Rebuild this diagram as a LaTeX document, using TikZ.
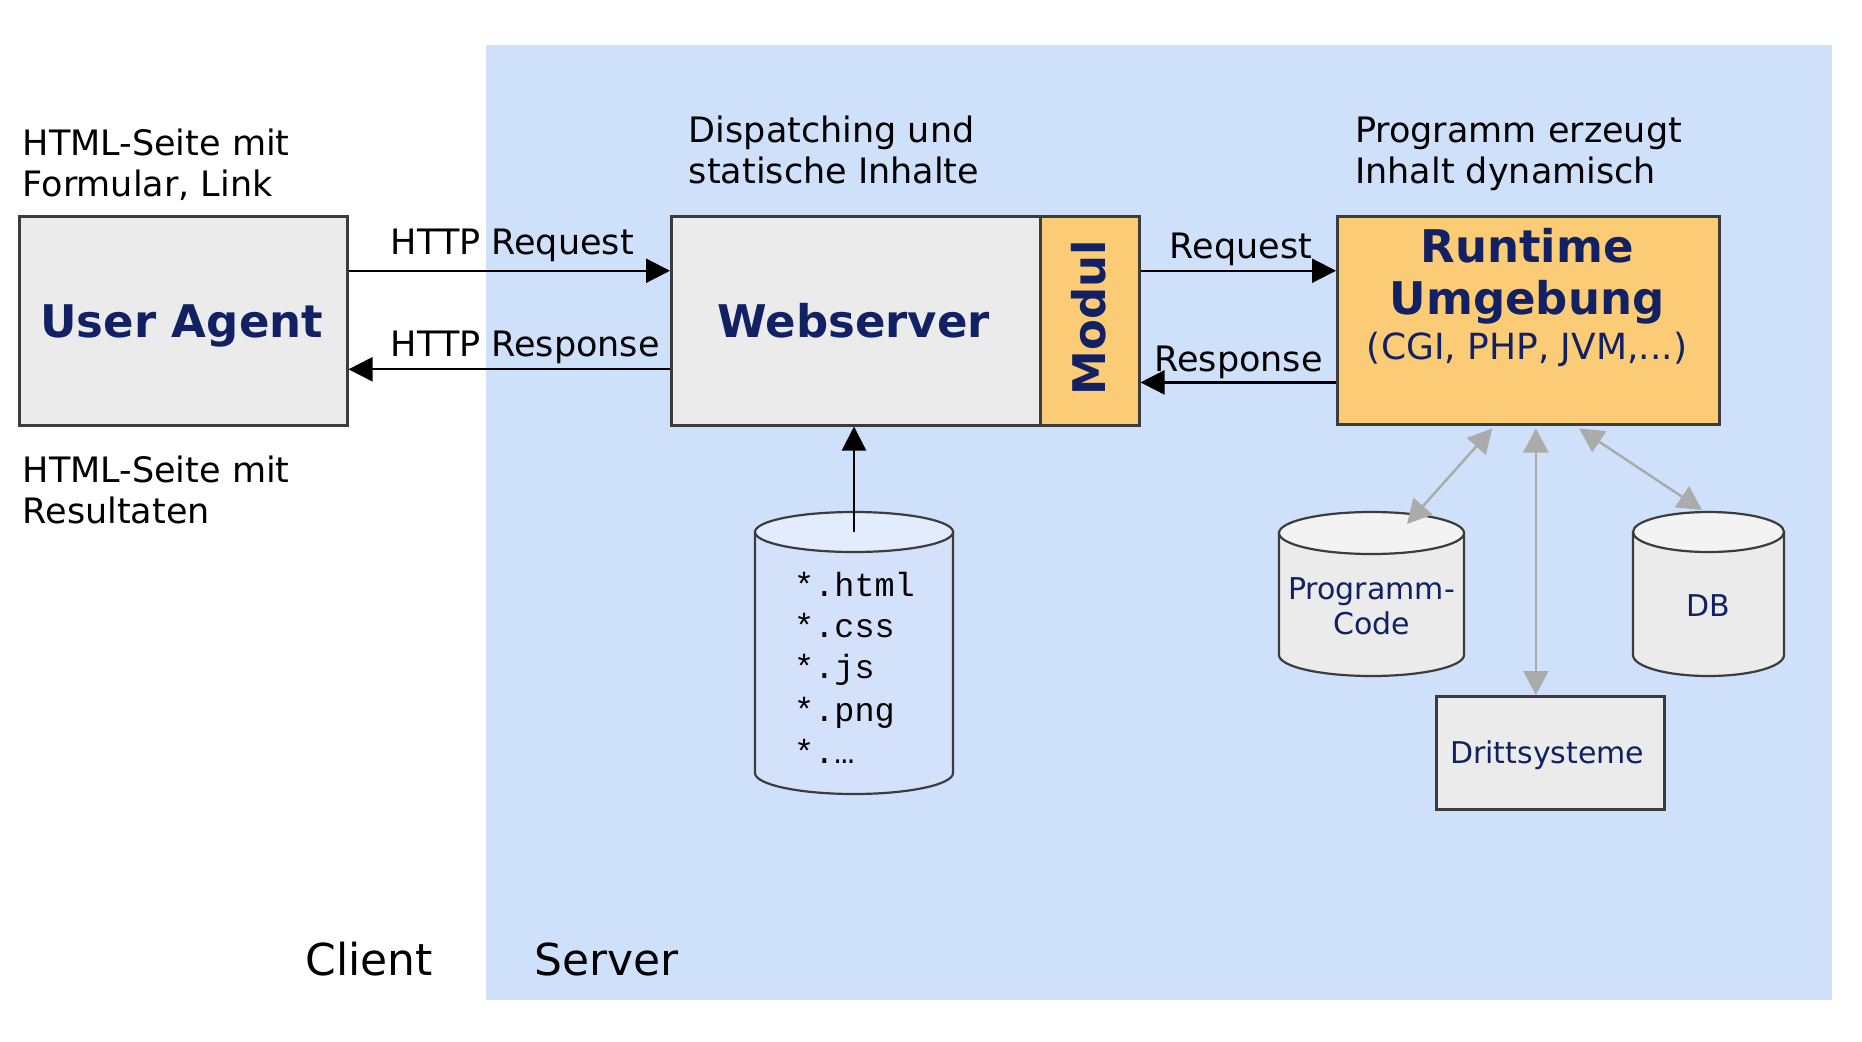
\documentclass[tikz,border=0pt]{standalone}
\usepackage{fontspec}
\setmainfont{DejaVu Sans}
\newfontfamily\monofont{Liberation Mono}
\usetikzlibrary{arrows.meta}
\definecolor{serverbg}{HTML}{CFE0FA}
\definecolor{boxgray}{HTML}{EBEBEB}
\definecolor{boxline}{HTML}{3C3C3C}
\definecolor{orangefill}{HTML}{FCCB76}
\definecolor{navy}{HTML}{112163}
\definecolor{arrgray}{HTML}{ABABAB}
\definecolor{cylblue}{HTML}{D3E2FA}
\definecolor{cylbluetop}{HTML}{E3ECFC}
\definecolor{cylgraytop}{HTML}{F3F3F3}
\begin{document}
\begin{tikzpicture}[x=1pt,y=-1pt,
  graybox/.style={draw=boxline, line width=2.5pt, fill=boxgray, inner sep=0pt, anchor=north west},
  orangebox/.style={draw=boxline, line width=2.5pt, fill=orangefill, inner sep=0pt, anchor=north west},
  annot/.style={align=left, anchor=west, inner sep=0pt, font=\fontsize{35}{40.5}\selectfont},
  lbl/.style={inner sep=0pt, font=\fontsize{35}{40.5}\selectfont},
  bigbold/.style={inner sep=0pt, anchor=base, text=navy, font=\fontsize{45}{52}\selectfont\bfseries},
  smalltxt/.style={inner sep=0pt, anchor=base, text=navy, font=\fontsize{30}{35}\selectfont},
  monotxt/.style={inner sep=0pt, anchor=base west, font=\fontsize{33.5}{40}\monofont},
  sidelbl/.style={inner sep=0pt, anchor=base, font=\fontsize{44}{50}\selectfont},
  blk/.style={line width=2.2pt, -{Triangle[length=24pt,width=24pt]}},
  gry/.style={draw=arrgray, line width=2.5pt, {Triangle[length=24pt,width=25pt]}-{Triangle[length=24pt,width=25pt]}},
  cylline/.style={draw=boxline, line width=2.2pt}
]
\useasboundingbox (0,0) rectangle (1862,1041);
% server background
\fill[serverbg] (486,45) rectangle (1832,1000);

% annotations
\node[annot] (a1) at (22.6,164.7) {HTML-Seite mit\\Formular, Link};
\node[annot] (a2) at (22.6,490) {HTML-Seite mit\\Resultaten};
\node[annot] (a3) at (688.7,150) {Dispatching und\\statische Inhalte};
\node[annot] (a4) at (1355,154) {Programm erzeugt\\Inhalt dynamisch};

% boxes
\node[graybox, minimum width=328pt, minimum height=209pt] (ua) at (18,215) {};
\node[graybox, minimum width=369pt, minimum height=209pt] (ws) at (670,215) {};
\node[orangebox, minimum width=99pt, minimum height=209pt] (mod) at (1039,215) {};
\node[orangebox, minimum width=382pt, minimum height=208pt] (rt) at (1336,215) {};
\node[graybox, minimum width=228pt, minimum height=113pt] (dr) at (1435,695) {};

% box texts
\node[bigbold] (uat) at (181.7,337) {User Agent};
\node[bigbold] (wst) at (853.8,337) {Webserver};
\node[inner sep=0pt, text=navy, font=\fontsize{45}{52}\selectfont\bfseries, rotate=90] (modt) at (1089,318) {Modul};
\node[bigbold] (rt1) at (1527,262.2) {Runtime};
\node[bigbold] (rt2) at (1527,314.4) {Umgebung};
\node[inner sep=0pt, anchor=base, text=navy, font=\fontsize{36}{40}\selectfont] (rt3) at (1527,359.5) {(CGI, PHP, JVM,...)};
\node[smalltxt] (drt) at (1547.3,763.5) {Drittsysteme};

% arrow levels
\coordinate (yreq) at (0,270.75);
\coordinate (yresp) at (0,369.3);
\coordinate (ymresp) at (0,382.4);

\draw[blk] (ua.east |- yreq) -- (ws.west |- yreq);
\draw[blk] (ws.west |- yresp) -- (ua.east |- yresp);
\draw[blk] (mod.east |- yreq) -- (rt.west |- yreq);
\draw[blk] (rt.west |- ymresp) -- (mod.east |- ymresp);

\node[lbl, anchor=base west] (lreq) at (390.7,254.7) {HTTP Request};
\node[lbl, anchor=base west] (lresp) at (390.7,356.7) {HTTP Response};
\node[lbl, anchor=base] (lmreq) at (1241,258.7) {Request};
\node[lbl, anchor=base] (lmresp) at (1238.6,371.3) {Response};

% static content cylinder
\coordinate (stc) at (854,532);
\filldraw[cylline, fill=cylblue] (755,532) -- (755,773)
  arc[start angle=180, end angle=360, x radius=99pt, y radius=21pt] -- (953,532) -- cycle;
\filldraw[cylline, fill=cylbluetop] (stc) ellipse[x radius=99pt, y radius=20pt];
\node[monotxt] (m1) at (794,596.7) {*.html};
\node[monotxt] (m2) at (794,637) {*.css};
\node[monotxt] (m3) at (794,678.3) {*.js};
\node[monotxt] (m4) at (794,721) {*.png};
\node[monotxt] (m5) at (794,763) {*.…};
\draw[blk] (stc) -- (stc |- ws.south);

% Programm-Code cylinder
\coordinate (pcc) at (1371.5,533);
\filldraw[cylline, fill=boxgray] (1279,533) -- (1279,655)
  arc[start angle=180, end angle=360, x radius=92.5pt, y radius=21pt] -- (1464,533) -- cycle;
\filldraw[cylline, fill=cylgraytop] (pcc) ellipse[x radius=92.5pt, y radius=21pt];
\node[smalltxt] (pc1) at (1371.5,599.5) {Programm-};
\node[smalltxt] (pc2) at (1371.5,634) {Code};

% DB cylinder
\coordinate (dbc) at (1708.5,532);
\filldraw[cylline, fill=boxgray] (1633,532) -- (1633,655)
  arc[start angle=180, end angle=360, x radius=75.5pt, y radius=21pt] -- (1784,532) -- cycle;
\filldraw[cylline, fill=cylgraytop] (dbc) ellipse[x radius=75.5pt, y radius=20pt];
\node[smalltxt] (dbt) at (1708.5,616.5) {DB};

% gray arrows
\coordinate (pctop) at (1407,524);
\coordinate (dbtop) at (1702,510);
\coordinate (g1) at ([xshift=-36pt,yshift=-3pt]rt.south);
\coordinate (g2) at ([xshift=7.6pt,yshift=-3pt]rt.south);
\coordinate (g3) at ([xshift=51pt,yshift=-3pt]rt.south);
\draw[gry] (g1) -- (pctop);
\draw[gry] (g2) -- (g2 |- dr.north);
\draw[gry] (g3) -- (dbtop);

% side labels
\node[sidelbl] (cl) at (369.3,975.5) {Client};
\node[sidelbl] (sv) at (606.8,975.5) {Server};
\end{tikzpicture}
\end{document}
